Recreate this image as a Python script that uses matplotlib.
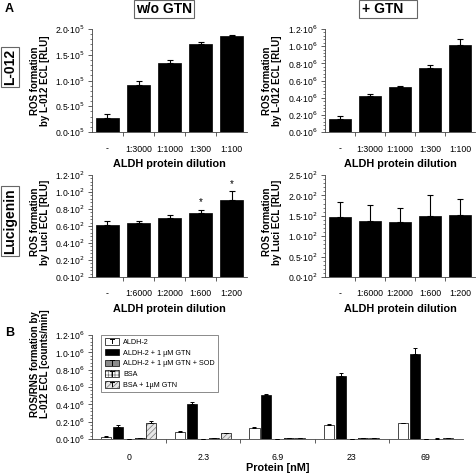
import matplotlib
matplotlib.use("Agg")
import matplotlib.pyplot as plt
import numpy as np
from matplotlib.patches import Rectangle, Patch
from matplotlib.lines import Line2D
from matplotlib.legend_handler import HandlerBase
from matplotlib.ticker import AutoMinorLocator

plt.rcParams['font.family'] = ['Liberation Sans', 'DejaVu Sans']
plt.rcParams['hatch.linewidth'] = 0.5

# ---------------- data ----------------
dil_l012 = ['-', '1:3000', '1:1000', '1:300', '1:100']
dil_luci = ['-', '1:6000', '1:2000', '1:600', '1:200']

l012_wo = [0.27, 0.905, 1.34, 1.70, 1.86]          # x 1e5
l012_wo_err = [0.07, 0.095, 0.05, 0.05, 0.03]
l012_gtn = [0.156, 0.42, 0.52, 0.75, 1.01]          # x 1e6
l012_gtn_err = [0.025, 0.02, 0.02, 0.03, 0.07]
luci_wo = [0.613, 0.633, 0.69, 0.754, 0.906]        # x 1e2
luci_wo_err = [0.043, 0.023, 0.04, 0.04, 0.10]
luci_gtn = [1.47, 1.38, 1.36, 1.49, 1.52]           # x 1e2
luci_gtn_err = [0.38, 0.39, 0.34, 0.52, 0.40]
luci_wo_sig = [False, False, False, True, True]

protein_nM = ['0', '2.3', '6.9', '23', '69']
b_series = ['ALDH-2', 'ALDH-2 + 1 µM GTN', 'ALDH-2 + 1 µM GTN + SOD', 'BSA', 'BSA + 1µM GTN']
b_aldh = [0.027, 0.084, 0.13, 0.165, 0.18]
b_aldh_err = [0.005, 0.01, 0.006, 0.006, 0.004]
b_aldh_gtn = [0.142, 0.406, 0.502, 0.728, 0.985]
b_aldh_gtn_err = [0.025, 0.018, 0.015, 0.03, 0.06]
b_aldh_gtn_sod = [0.004, 0.003, 0.003, 0.003, 0.003]
b_aldh_gtn_sod_err = [0.001, 0.001, 0.001, 0.001, 0.001]
b_bsa = [0.012, 0.008, 0.01, 0.006, 0.005]
b_bsa_err = [0.002, 0.002, 0.002, 0.002, 0.002]
b_bsa_gtn = [0.184, 0.065, 0.012, 0.008, 0.006]
b_bsa_gtn_err = [0.025, 0.005, 0.004, 0.002, 0.002]

W, H = 477, 476
fig = plt.figure(figsize=(W / 100, H / 100), dpi=100)


def add_ax(x0, y0, x1, y1):
    return fig.add_axes([x0 / W, 1 - y1 / H, (x1 - x0) / W, (y1 - y0) / H])


def style_ax(ax, ymax, step, exp, ncat, labels):
    ax.spines['top'].set_visible(False)
    ax.spines['right'].set_visible(False)
    for s in ('left', 'bottom'):
        ax.spines[s].set_linewidth(0.6)
        ax.spines[s].set_color('#444444')
    ticks = np.arange(0, ymax + step / 2, step)
    ax.set_ylim(0, ymax)
    ax.set_yticks(ticks)
    ax.set_yticklabels([f'{t:.1f}·10$^{{{exp}}}$' for t in ticks], fontsize=6.2)
    ax.yaxis.set_minor_locator(AutoMinorLocator(5))
    ax.tick_params(axis='y', which='major', length=3, width=0.6, color='#444444', pad=2)
    ax.tick_params(axis='y', which='minor', length=1.5, width=0.5, color='#444444')
    ax.set_xlim(-0.5, ncat - 0.5)
    ax.set_xticks(np.arange(0.5, ncat - 0.5, 1.0))
    ax.set_xticklabels([])
    ax.set_xticks(np.arange(ncat), minor=True)
    ax.set_xticklabels(labels, minor=True, fontsize=6.3)
    ax.tick_params(axis='x', which='major', length=3, width=0.6, color='#444444')
    ax.tick_params(axis='x', which='minor', length=0, pad=9)


def simple_bars(ax, vals, errs, capsize=2.2):
    x = np.arange(len(vals))
    ax.bar(x, vals, width=0.75, color='black', edgecolor='black', linewidth=0.5, zorder=2)
    ax.errorbar(x, vals, yerr=[np.zeros(len(errs)), errs], fmt='none', ecolor='black',
                elinewidth=0.8, capsize=capsize, capthick=0.8, zorder=3)


# Panel A
ax1 = add_ax(92, 29, 247, 132)
simple_bars(ax1, l012_wo, l012_wo_err)
style_ax(ax1, 2.0, 0.5, 5, 5, dil_l012)

ax2 = add_ax(325, 29, 475, 132)
simple_bars(ax2, l012_gtn, l012_gtn_err)
style_ax(ax2, 1.2, 0.2, 6, 5, dil_l012)

ax3 = add_ax(92, 175, 247, 277)
simple_bars(ax3, luci_wo, luci_wo_err)
style_ax(ax3, 1.2, 0.2, 2, 5, dil_luci)
for i, s in enumerate(luci_wo_sig):
    if s:
        ax3.annotate('*', (i, luci_wo[i] + luci_wo_err[i]), xytext=(0, 2),
                     textcoords='offset points', ha='center', va='bottom', fontsize=7)

ax4 = add_ax(325, 175, 475, 277)
simple_bars(ax4, luci_gtn, luci_gtn_err)
style_ax(ax4, 2.5, 0.5, 2, 5, dil_luci)

for ax in (ax1, ax2, ax3, ax4):
    ax.set_xlabel('ALDH protein dilution', fontsize=7.8, fontweight='bold', labelpad=4)

ylab_kw = dict(rotation=90, ha='center', va='center', fontsize=7.0, fontweight='bold',
               multialignment='center', linespacing=1.05)
fig.text(40 / W, 1 - 81 / H, 'ROS formation\nby L-012 ECL [RLU]', **ylab_kw)
fig.text(272 / W, 1 - 81 / H, 'ROS formation\nby L-012 ECL [RLU]', **ylab_kw)
fig.text(40 / W, 1 - 222 / H, 'ROS formation\nby Luci ECL [RLU]', **ylab_kw)
fig.text(272 / W, 1 - 222 / H, 'ROS formation\nby Luci ECL [RLU]', **ylab_kw)

box = dict(boxstyle='square,pad=0.15', facecolor='white', edgecolor='#666666', linewidth=0.8)
fig.text(5 / W, 1 - 9 / H, 'A', fontsize=9, fontweight='bold', ha='left', va='center')
fig.text(164 / W, 1 - 9 / H, 'w/o GTN', fontsize=10, fontweight='bold', ha='center', va='center', bbox=box)
fig.text(388 / W, 1 - 9 / H, '+ GTN   ', fontsize=10, fontweight='bold', ha='center', va='center', bbox=box)
fig.text(10 / W, 1 - 67 / H, 'L-012', fontsize=10, fontweight='bold', ha='center', va='center',
         rotation=90, bbox=box)
fig.text(10 / W, 1 - 221 / H, 'Lucigenin', fontsize=10, fontweight='bold', ha='center', va='center',
         rotation=90, bbox=box)

# Panel B
axb = add_ax(92, 335, 463, 439)
b_vals = [b_aldh, b_aldh_gtn, b_aldh_gtn_sod, b_bsa, b_bsa_gtn]
b_errs = [b_aldh_err, b_aldh_gtn_err, b_aldh_gtn_sod_err, b_bsa_err, b_bsa_gtn_err]
b_fc = ['white', 'black', '#8c8c8c', 'white', '#e6e6e6']
b_hatch = [None, None, None, '+++++', '//////']
offsets = [-0.31, -0.15, 0.0, 0.15, 0.30]
bw = 0.135
xg = np.arange(len(protein_nM))
for vals, errs, fc, hatch, off in zip(b_vals, b_errs, b_fc, b_hatch, offsets):
    if hatch:
        axb.bar(xg + off, vals, width=bw, color=fc, edgecolor='#777777', hatch=hatch,
                linewidth=0, zorder=2)
        axb.bar(xg + off, vals, width=bw, fill=False, edgecolor='black', linewidth=0.5, zorder=2)
    else:
        axb.bar(xg + off, vals, width=bw, color=fc, edgecolor='black', linewidth=0.5, zorder=2)
    axb.errorbar(xg + off, vals, yerr=[np.zeros(len(errs)), errs], fmt='none', ecolor='black',
                 elinewidth=0.7, capsize=1.6, capthick=0.7, zorder=3)
style_ax(axb, 1.2, 0.2, 6, 5, protein_nM)
axb.tick_params(axis='x', which='minor', pad=10)
axb.set_xlabel('Protein [nM]', fontsize=7.8, fontweight='bold', labelpad=1)
fig.text(40 / W, 1 - 364 / H, 'ROS/RNS formation by\nL-012 ECL [counts/min]', **ylab_kw)
fig.text(5 / W, 1 - 333 / H, 'B', fontsize=9, fontweight='bold', ha='left', va='center')


class ErrHandler(HandlerBase):
    def create_artists(self, legend, orig_handle, xdescent, ydescent, width, height, fontsize, trans):
        x0, y0 = -xdescent, -ydescent
        fc = orig_handle.get_facecolor()
        hatch = orig_handle.get_hatch()
        arts = []
        if hatch:
            r1 = Rectangle((x0, y0), width, height, facecolor=fc, edgecolor='#777777', hatch=hatch,
                           linewidth=0, transform=trans)
            r2 = Rectangle((x0, y0), width, height, fill=False, edgecolor='black', linewidth=0.5,
                           transform=trans)
            arts += [r1, r2]
        else:
            arts.append(Rectangle((x0, y0), width, height, facecolor=fc, edgecolor='black',
                                  linewidth=0.5, transform=trans))
        cx = x0 + width / 2
        arts.append(Line2D([cx, cx], [y0 + 0.2 * height, y0 + 0.9 * height], color='black', lw=0.7,
                           transform=trans))
        arts.append(Line2D([cx - 0.15 * width, cx + 0.15 * width], [y0 + 0.9 * height] * 2,
                           color='black', lw=0.7, transform=trans))
        return arts


handles = [Patch(facecolor=fc, hatch=h) for fc, h in zip(b_fc, b_hatch)]
leg = axb.legend(handles, b_series, loc='upper left', bbox_to_anchor=(0.025, 1.0),
                 handler_map={Patch: ErrHandler()}, fontsize=5.2, frameon=True, fancybox=False,
                 handlelength=2.0, handleheight=1.0, labelspacing=0.42, borderpad=0.45,
                 handletextpad=0.6, borderaxespad=0.0)
leg.get_frame().set_edgecolor('#555555')
leg.get_frame().set_linewidth(0.6)

fig.savefig('out.png', dpi=100)
